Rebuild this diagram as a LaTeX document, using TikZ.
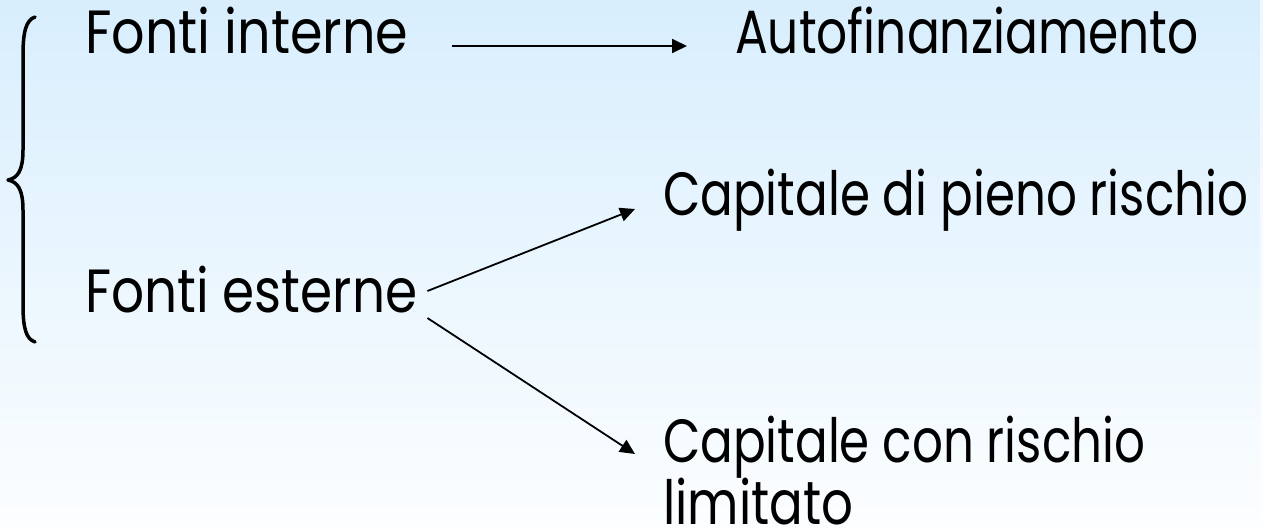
\documentclass[tikz,border=0pt]{standalone}
\usepackage{fontspec}
\setmainfont{Poppins}
\usepackage{graphicx}
\usetikzlibrary{arrows.meta}

\definecolor{skytop}{RGB}{216,238,253}
\definecolor{skybottom}{RGB}{252,254,255}

% squeeze or stretch a label horizontally to a given width
\newcommand{\fitw}[2]{\resizebox{#1}{\height}{#2}}

\begin{document}
\begin{tikzpicture}[x=1pt,y=1pt,
  txt/.style={anchor=base west, inner sep=0pt, font=\fontsize{61}{72}\selectfont},
  link/.style={line width=1.8pt, -{Triangle[length=15pt,width=14pt]}},
  bracket/.style={line width=3.5pt, line cap=round, line join=round}
]
% background
\shade[top color=skytop, bottom color=skybottom] (0,0) rectangle (1263,-530);
\fill[white, opacity=0.6] (1260,0) rectangle (1263,-530);
\useasboundingbox (0,0) rectangle (1263,-530);

% labels
\node[txt] (fi) at (85,-53)  {\fitw{323pt}{Fonti interne}};
\node[txt] (af) at (735,-53) {\fitw{463pt}{Autofinanziamento}};
\node[txt] (cp) at (663,-215) {\fitw{585pt}{Capitale di pieno rischio}};
\node[txt] (fe) at (85,-312) {\fitw{332pt}{Fonti esterne}};
\node[txt] (cc) at (663,-462) {\fitw{482pt}{Capitale con rischio}};
\node[txt] (li) at (663,-524) {\fitw{190pt}{limitato}};

% connectors
\draw[link] ([shift={(44pt,7pt)}]fi.base east) -- ([shift={(-48pt,7pt)}]af.base west);
\draw[link] ([shift={(10pt,21pt)}]fe.base east) -- ([shift={(-28pt,6pt)}]cp.base west);
\draw[link] ([shift={(10pt,-6pt)}]fe.base east) -- ([shift={(-28pt,8pt)}]cc.base west);

% curly bracket grouping the two sources
\draw[bracket] (35,-17) .. controls (26,-20) and (23,-32) .. (23,-55)
  -- (23,-150) .. controls (23,-170) and (18,-178) .. (8,-180)
  .. controls (18,-182) and (23,-190) .. (23,-210)
  -- (23,-305) .. controls (23,-328) and (26,-339) .. (35,-342);
\end{tikzpicture}
\end{document}
